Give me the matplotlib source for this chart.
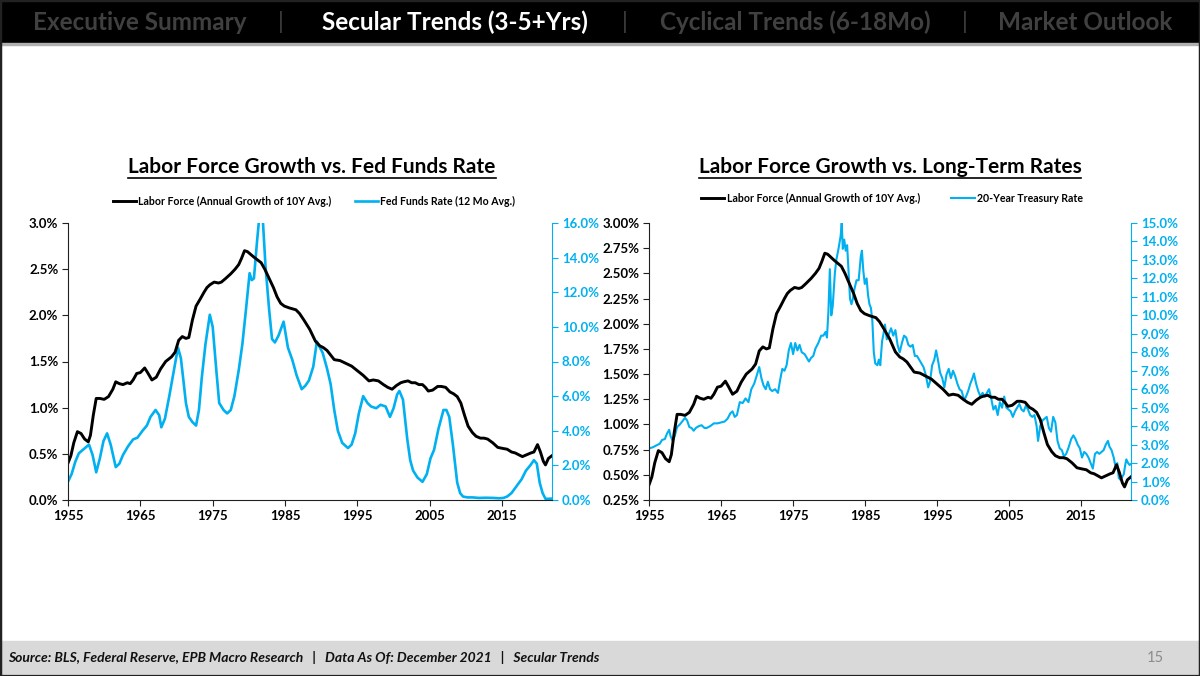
import numpy as np
import matplotlib.pyplot as plt
from matplotlib.lines import Line2D
from matplotlib.patches import Rectangle
from matplotlib.ticker import FuncFormatter

plt.rcParams['font.family'] = ['Lato', 'DejaVu Sans']

BLUE = '#00B0F0'

# Labor force (annual growth of 10Y avg, %)
lf_years = [1955.0, 1955.4, 1955.8, 1956.3, 1956.8, 1957.3, 1957.8, 1958.1, 1958.5, 1958.9, 1959.4,
            1960.0, 1960.6, 1961.2, 1961.6, 1962.1, 1962.6, 1963.2, 1963.6, 1964.0, 1964.5, 1965.0,
            1965.6, 1966.0, 1966.6, 1967.2, 1967.8, 1968.5, 1969.3, 1969.8, 1970.3, 1970.8, 1971.3,
            1971.7, 1972.2, 1972.7, 1973.3, 1973.8, 1974.2, 1974.6, 1975.2, 1975.8, 1976.2, 1976.8,
            1977.5, 1978.1, 1978.6, 1979.0, 1979.4, 1979.8, 1980.1, 1980.7, 1981.2, 1981.7, 1982.2,
            1982.8, 1983.4, 1983.9, 1984.4, 1984.9, 1985.6, 1986.5, 1987.0, 1987.6, 1988.4, 1989.2,
            1989.8, 1990.3, 1990.8, 1991.3, 1991.8, 1992.6, 1993.4, 1994.2, 1995.0, 1995.8, 1996.6,
            1997.2, 1997.9, 1998.6, 1999.2, 1999.8, 2000.4, 2001.0, 2001.4, 2002.0, 2002.5, 2003.0,
            2003.5, 2004.0, 2004.4, 2004.8, 2005.4, 2006.1, 2006.6, 2007.2, 2007.8, 2008.3, 2008.8,
            2009.3, 2009.8, 2010.3, 2010.9, 2011.4, 2012.0, 2012.5, 2013.0, 2013.7, 2014.4, 2015.0,
            2015.7, 2016.3, 2016.8, 2017.3, 2017.8, 2018.4, 2019.0, 2019.4, 2019.9, 2020.3, 2020.7,
            2021.0, 2021.4, 2021.9]
lf_vals = [0.40, 0.48, 0.62, 0.74, 0.72, 0.66, 0.63, 0.70, 0.92, 1.10, 1.10,
           1.09, 1.12, 1.20, 1.28, 1.26, 1.25, 1.27, 1.26, 1.30, 1.37, 1.38,
           1.43, 1.38, 1.30, 1.33, 1.42, 1.50, 1.55, 1.60, 1.73, 1.77, 1.75,
           1.76, 1.95, 2.10, 2.18, 2.25, 2.30, 2.33, 2.36, 2.35, 2.36, 2.40,
           2.45, 2.50, 2.55, 2.62, 2.70, 2.69, 2.67, 2.63, 2.60, 2.57, 2.50,
           2.40, 2.30, 2.20, 2.13, 2.10, 2.08, 2.06, 2.02, 1.95, 1.85, 1.72,
           1.67, 1.65, 1.62, 1.57, 1.52, 1.51, 1.48, 1.45, 1.40, 1.35, 1.29,
           1.30, 1.29, 1.25, 1.22, 1.20, 1.24, 1.27, 1.28, 1.29, 1.27, 1.27,
           1.25, 1.25, 1.22, 1.18, 1.19, 1.23, 1.23, 1.22, 1.17, 1.15, 1.12,
           1.05, 0.92, 0.80, 0.73, 0.69, 0.67, 0.67, 0.66, 0.62, 0.57, 0.56,
           0.55, 0.52, 0.51, 0.49, 0.47, 0.49, 0.51, 0.52, 0.60, 0.52, 0.42,
           0.38, 0.45, 0.48]

# Fed funds rate, 12 month average (%)
ff_years = [1955.0, 1955.5, 1956.0, 1956.5, 1957.2, 1957.9, 1958.4, 1958.9, 1959.4, 1959.9, 1960.4,
            1960.9, 1961.6, 1962.1, 1962.6, 1963.3, 1964.0, 1964.6, 1965.3, 1965.9, 1966.4, 1967.1,
            1967.6, 1967.9, 1968.4, 1969.0, 1969.6, 1970.2, 1970.6, 1970.9, 1971.3, 1971.7, 1972.2,
            1972.7, 1973.1, 1973.5, 1974.0, 1974.6, 1975.0, 1975.5, 1975.9, 1976.5, 1977.0, 1977.5,
            1978.0, 1978.6, 1979.1, 1979.6, 1980.1, 1980.4, 1980.7, 1981.1, 1981.5, 1981.9, 1982.3,
            1982.8, 1983.2, 1983.6, 1984.1, 1984.8, 1985.4, 1986.0, 1986.6, 1987.3, 1987.8, 1988.3,
            1988.9, 1989.4, 1990.2, 1990.8, 1991.3, 1991.8, 1992.3, 1992.9, 1993.7, 1994.2, 1994.7,
            1995.2, 1995.8, 1996.4, 1996.9, 1997.6, 1998.2, 1998.9, 1999.5, 2000.0, 2000.5, 2000.8,
            2001.3, 2001.9, 2002.3, 2002.7, 2003.3, 2004.0, 2004.6, 2005.1, 2005.6, 2006.2, 2006.9,
            2007.3, 2007.7, 2008.2, 2008.8, 2009.2, 2009.6, 2010.2, 2010.9, 2011.8, 2012.8, 2013.8,
            2014.6, 2015.2, 2015.7, 2016.3, 2017.0, 2017.7, 2018.3, 2018.9, 2019.4, 2019.8, 2020.2,
            2020.6, 2021.0, 2021.4, 2021.9]
ff_vals = [1.06, 1.50, 2.20, 2.70, 2.95, 3.20, 2.60, 1.60, 2.40, 3.40, 3.85,
           3.20, 1.90, 2.10, 2.60, 3.10, 3.50, 3.60, 4.00, 4.30, 4.80, 5.20,
           4.90, 4.20, 4.70, 6.00, 7.40, 8.80, 8.20, 7.10, 5.60, 4.80, 4.50,
           4.30, 5.20, 7.10, 9.00, 10.70, 10.00, 7.50, 5.60, 5.20, 5.00, 5.20,
           6.00, 7.50, 9.00, 11.00, 13.10, 12.70, 12.80, 14.80, 16.60, 16.40, 13.50,
           11.00, 9.30, 9.10, 9.50, 10.30, 8.80, 8.10, 7.20, 6.40, 6.60, 6.90,
           7.70, 9.15, 8.50, 7.60, 6.70, 5.20, 4.00, 3.30, 3.00, 3.20, 3.85,
           5.00, 6.00, 5.60, 5.40, 5.30, 5.50, 5.40, 4.80, 5.30, 6.10, 6.30,
           5.80, 3.50, 2.30, 1.70, 1.30, 1.05, 1.50, 2.40, 2.90, 4.10, 5.20,
           5.20, 4.80, 3.20, 1.00, 0.40, 0.20, 0.15, 0.15, 0.12, 0.13, 0.12,
           0.10, 0.12, 0.20, 0.40, 0.80, 1.20, 1.70, 2.00, 2.30, 2.10, 1.00,
           0.40, 0.07, 0.07, 0.08]

# 20-year Treasury rate (%)
tr_years = [1955.0, 1955.5, 1956.0, 1956.5, 1956.8, 1957.2, 1957.5, 1957.8, 1958.0, 1958.3, 1958.6,
            1958.9, 1959.3, 1959.7, 1960.0, 1960.3, 1960.6, 1960.9, 1961.2, 1961.5, 1961.9, 1962.3,
            1962.7, 1963.0, 1963.5, 1964.0, 1964.5, 1965.0, 1965.5, 1965.9, 1966.3, 1966.6, 1966.9,
            1967.2, 1967.6, 1968.0, 1968.4, 1968.8, 1969.2, 1969.6, 1970.0, 1970.3, 1970.6, 1970.9,
            1971.2, 1971.5, 1971.8, 1972.1, 1972.5, 1972.9, 1973.2, 1973.5, 1973.8, 1974.1, 1974.4,
            1974.7, 1975.0, 1975.3, 1975.6, 1975.9, 1976.2, 1976.6, 1976.9, 1977.2, 1977.5, 1977.8,
            1978.1, 1978.5, 1978.9, 1979.2, 1979.5, 1979.7, 1979.9, 1980.1, 1980.3, 1980.5, 1980.8,
            1981.0, 1981.3, 1981.6, 1981.75, 1981.9, 1982.1, 1982.3, 1982.5, 1982.7, 1982.9, 1983.1,
            1983.3, 1983.5, 1983.8, 1984.1, 1984.4, 1984.55, 1984.75, 1984.95, 1985.2, 1985.4, 1985.6,
            1985.8, 1986.0, 1986.2, 1986.4, 1986.7, 1986.9, 1987.1, 1987.35, 1987.55, 1987.75, 1988.0,
            1988.3, 1988.6, 1988.9, 1989.2, 1989.5, 1989.8, 1990.1, 1990.4, 1990.7, 1991.0, 1991.3,
            1991.6, 1991.9, 1992.2, 1992.5, 1992.8, 1993.1, 1993.4, 1993.75, 1994.0, 1994.3, 1994.6,
            1994.85, 1995.1, 1995.4, 1995.7, 1996.0, 1996.3, 1996.6, 1996.9, 1997.2, 1997.5, 1997.8,
            1998.1, 1998.4, 1998.75, 1999.0, 1999.3, 1999.6, 1999.9, 2000.1, 2000.4, 2000.7, 2001.0,
            2001.3, 2001.6, 2001.9, 2002.2, 2002.5, 2002.8, 2003.1, 2003.4, 2003.7, 2004.0, 2004.3,
            2004.6, 2004.9, 2005.2, 2005.5, 2005.8, 2006.1, 2006.4, 2006.7, 2007.0, 2007.3, 2007.6,
            2007.9, 2008.2, 2008.5, 2008.8, 2009.0, 2009.3, 2009.6, 2009.9, 2010.2, 2010.5, 2010.8,
            2011.1, 2011.4, 2011.7, 2012.0, 2012.3, 2012.6, 2012.9, 2013.2, 2013.6, 2013.9, 2014.2,
            2014.5, 2014.8, 2015.1, 2015.4, 2015.7, 2016.0, 2016.3, 2016.6, 2016.9, 2017.2, 2017.5,
            2017.8, 2018.1, 2018.4, 2018.7, 2018.9, 2019.2, 2019.5, 2019.75, 2020.0, 2020.2, 2020.4,
            2020.6, 2020.9, 2021.1, 2021.25, 2021.5, 2021.7, 2021.9]
tr_vals = [2.80, 2.85, 2.95, 3.05, 3.25, 3.30, 3.60, 3.80, 3.45, 3.20, 3.50,
           3.95, 4.10, 4.30, 4.45, 4.30, 3.95, 3.90, 3.75, 3.90, 4.00, 4.05,
           3.90, 3.90, 4.00, 4.15, 4.15, 4.20, 4.25, 4.40, 4.70, 4.80, 4.50,
           4.60, 5.30, 5.25, 5.50, 5.30, 6.00, 6.30, 6.80, 7.20, 6.60, 6.20,
           6.00, 6.40, 6.00, 5.90, 6.00, 5.80, 6.50, 7.10, 7.00, 7.30, 8.10,
           8.50, 7.90, 8.50, 8.10, 8.40, 8.00, 7.90, 7.70, 7.50, 7.70, 7.80,
           8.20, 8.50, 8.90, 8.90, 9.10, 8.80, 10.20, 12.50, 10.00, 10.50, 12.30,
           13.00, 13.60, 14.30, 15.00, 13.60, 14.10, 13.50, 13.80, 12.30, 10.90, 10.60,
           10.90, 11.40, 11.90, 11.90, 13.20, 13.50, 12.40, 11.70, 12.00, 11.10, 10.60,
           10.40, 9.70, 8.00, 7.40, 7.30, 7.60, 7.30, 8.60, 9.00, 9.50, 8.70,
           9.00, 9.30, 8.90, 9.20, 8.40, 8.00, 8.50, 8.90, 8.80, 8.40, 8.30,
           8.40, 7.80, 7.80, 7.60, 7.40, 7.20, 6.80, 6.10, 6.40, 7.30, 7.60,
           8.10, 7.60, 6.90, 6.60, 6.10, 6.80, 7.10, 6.60, 7.00, 6.70, 6.30,
           6.00, 5.90, 5.40, 5.60, 5.90, 6.30, 6.60, 6.85, 6.30, 5.90, 5.60,
           5.80, 5.60, 5.80, 6.00, 5.50, 4.90, 5.10, 4.60, 5.30, 5.00, 5.60,
           5.00, 4.90, 4.80, 4.50, 4.80, 5.00, 5.20, 4.90, 4.80, 5.10, 4.90,
           4.60, 4.50, 4.60, 4.00, 3.20, 4.00, 4.30, 4.40, 4.50, 3.90, 3.70,
           4.50, 4.20, 3.20, 2.80, 2.70, 2.35, 2.50, 2.80, 3.30, 3.50, 3.30,
           3.00, 2.80, 2.30, 2.60, 2.50, 2.30, 2.00, 1.70, 2.50, 2.60, 2.50,
           2.60, 2.70, 3.00, 3.20, 2.90, 2.70, 2.30, 1.80, 2.00, 1.20, 1.10,
           1.20, 1.40, 1.90, 2.20, 2.00, 1.90, 1.95]

x_ticks = [1955, 1965, 1975, 1985, 1995, 2005, 2015]

fig = plt.figure(figsize=(12, 6.76), dpi=100)

# slide frame: header bar, footer band, border
fig.patches.append(Rectangle((0, 1 - 43 / 676), 1, 43 / 676, transform=fig.transFigure,
                             color='black', zorder=0))
fig.patches.append(Rectangle((0, 1 - 45 / 676), 1, 2 / 676, transform=fig.transFigure,
                             color='#b0b0b0', zorder=0))
fig.patches.append(Rectangle((0, 3 / 676), 1, 32 / 676, transform=fig.transFigure,
                             color='#d9d9d9', zorder=0))
fig.patches.append(Rectangle((0, 0), 1, 1, transform=fig.transFigure, fill=False,
                             edgecolor='#222222', linewidth=2.5, zorder=5))

hy = 1 - 22 / 676
fig.text(140 / 1200, hy, 'Executive Summary', color='#404040', fontsize=17.5, fontweight='bold',
         ha='center', va='center')
fig.text(455 / 1200, hy, 'Secular Trends (3-5+Yrs)', color='white', fontsize=17.5, fontweight='bold',
         ha='center', va='center')
fig.text(795 / 1200, hy, 'Cyclical Trends (6-18Mo)', color='#404040', fontsize=17.5, fontweight='bold',
         ha='center', va='center')
fig.text(1085 / 1200, hy, 'Market Outlook', color='#404040', fontsize=17.5, fontweight='bold',
         ha='center', va='center')
for sx in [281, 625, 965]:
    fig.text(sx / 1200, hy, '|', color='#404040', fontsize=17, ha='center', va='center')

fig.text(8 / 1200, 1 - 658 / 676,
         'Source: BLS, Federal Reserve, EPB Macro Research   |   Data As Of: December 2021   |   Secular Trends',
         fontsize=10, fontweight='bold', style='italic', color='#111111', va='center')
fig.text(1155 / 1200, 1 - 658 / 676, '15', fontsize=10.5, color='#8c8c8c', ha='center', va='center')


def pct(decimals):
    return FuncFormatter(lambda v, p: f'{v:.{decimals}f}%')


def style_axes(ax, ax2):
    ax.spines['top'].set_visible(False)
    ax.spines['right'].set_visible(False)
    ax.spines['left'].set_color('#202020')
    ax.spines['bottom'].set_color('#202020')
    ax2.spines['top'].set_visible(False)
    ax2.spines['left'].set_visible(False)
    ax2.spines['bottom'].set_visible(False)
    ax2.spines['right'].set_color(BLUE)
    ax.set_xlim(1955, 2021.9)
    ax.set_xticks(x_ticks)
    ax.tick_params(axis='both', labelsize=9.5, length=4, color='#202020', pad=3)
    ax2.tick_params(axis='y', labelsize=9.5, length=4, color=BLUE, labelcolor=BLUE, pad=3)
    for lab in ax.get_xticklabels() + ax.get_yticklabels() + ax2.get_yticklabels():
        lab.set_fontweight('bold')
    ax.patch.set_visible(False)


def underlined_title(x_center, text):
    t = fig.text(x_center, 1 - 167 / 676, text, fontsize=15, fontweight='bold',
                 ha='center', va='center')
    fig.canvas.draw()
    bb = t.get_window_extent().transformed(fig.transFigure.inverted())
    fig.add_artist(Line2D([bb.x0, bb.x1], [bb.y0 - 0.002, bb.y0 - 0.002],
                          transform=fig.transFigure, color='black', linewidth=1.2))


# left chart
ax1 = fig.add_axes([68 / 1200, 1 - 500 / 676, 484 / 1200, 277 / 676])
ax1b = ax1.twinx()
ax1.set_zorder(ax1b.get_zorder() + 1)
l1, = ax1.plot(lf_years, lf_vals, color='black', linewidth=2.1,
               label='Labor Force (Annual Growth of 10Y Avg.)')
l2, = ax1b.plot(ff_years, ff_vals, color=BLUE, linewidth=1.9, label='Fed Funds Rate (12 Mo Avg.)')
ax1.set_ylim(0, 3.0)
ax1.set_yticks(np.arange(0, 3.01, 0.5))
ax1.yaxis.set_major_formatter(pct(1))
ax1b.set_ylim(0, 16)
ax1b.set_yticks(np.arange(0, 16.1, 2))
ax1b.yaxis.set_major_formatter(pct(1))
style_axes(ax1, ax1b)
fig.legend(handles=[l1, l2], loc='center', bbox_to_anchor=(314 / 1200, 1 - 201 / 676), ncol=2,
           frameon=False, prop={'size': 7.6, 'weight': 'bold'}, handlelength=2.2,
           handletextpad=0.2, columnspacing=2.2)

# right chart
ax2 = fig.add_axes([649 / 1200, 1 - 500 / 676, 482 / 1200, 277 / 676])
ax2b = ax2.twinx()
ax2.set_zorder(ax2b.get_zorder() + 1)
r1, = ax2.plot(lf_years, lf_vals, color='black', linewidth=2.1,
               label='Labor Force (Annual Growth of 10Y Avg.)')
r2, = ax2b.plot(tr_years, tr_vals, color=BLUE, linewidth=1.5, label='20-Year Treasury Rate')
ax2.set_ylim(0.25, 3.0)
ax2.set_yticks(np.arange(0.25, 3.01, 0.25))
ax2.yaxis.set_major_formatter(pct(2))
ax2b.set_ylim(0, 15)
ax2b.set_yticks(np.arange(0, 15.1, 1))
ax2b.yaxis.set_major_formatter(pct(1))
style_axes(ax2, ax2b)
fig.legend(handles=[r1, r2], loc='center', bbox_to_anchor=(892 / 1200, 1 - 198 / 676), ncol=2,
           frameon=False, prop={'size': 7.6, 'weight': 'bold'}, handlelength=2.2,
           handletextpad=0.2, columnspacing=3.0)

underlined_title(312 / 1200, 'Labor Force Growth vs. Fed Funds Rate')
underlined_title(890 / 1200, 'Labor Force Growth vs. Long-Term Rates')

fig.savefig('out.png', dpi=100)
